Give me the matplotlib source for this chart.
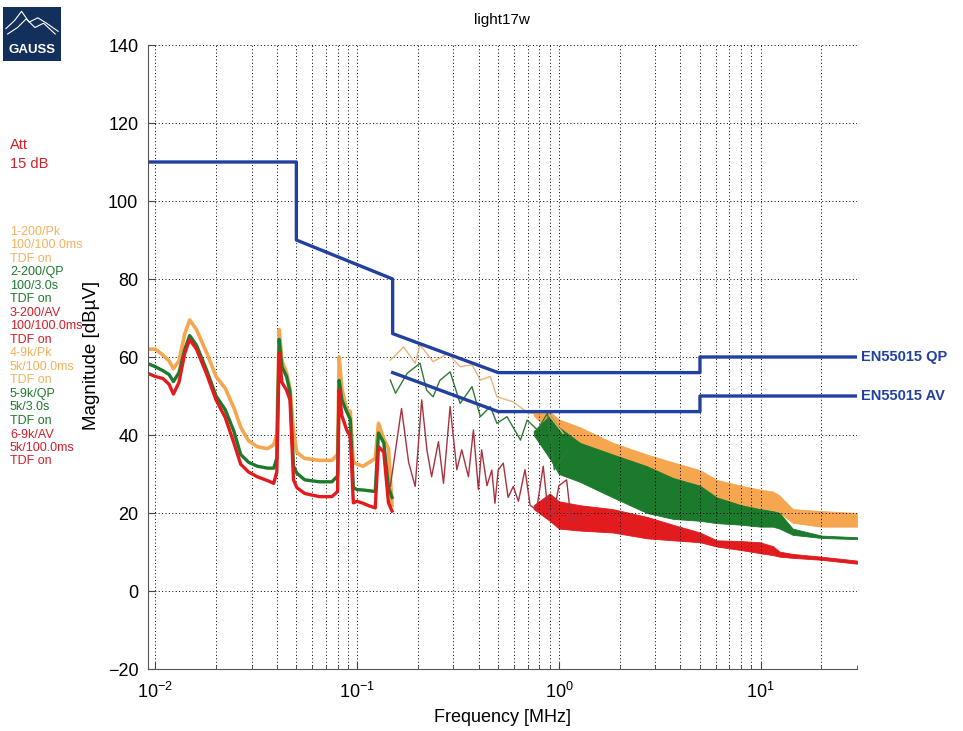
import numpy as np
import matplotlib
matplotlib.use('Agg')
import matplotlib.pyplot as plt
from matplotlib.ticker import FixedLocator, FuncFormatter, NullFormatter

plt.rcParams['font.family'] = ['Liberation Sans', 'DejaVu Sans']
plt.rcParams['mathtext.fontset'] = 'custom'
plt.rcParams['mathtext.rm'] = 'Liberation Sans'
plt.rcParams['mathtext.it'] = 'Liberation Sans:italic'

# EN55015 limit lines [MHz, dBuV]
qp_f = [0.009, 0.05, 0.05, 0.15, 0.15, 0.5, 5, 5, 30]
qp_db = [110, 110, 90, 80, 66, 56, 56, 60, 60]
av_f = [0.15, 0.5, 5, 5, 30]
av_db = [56, 46, 46, 50, 50]

# low frequency part (9 kHz band, 9-150 kHz): peak / QP / AV
lf_f = [0.0090, 0.0100, 0.0109, 0.0117, 0.0123, 0.0131, 0.0140, 0.0148, 0.0160, 0.0180,
        0.0200, 0.0222, 0.0245, 0.0265, 0.0290, 0.0320, 0.0360, 0.0386, 0.0400, 0.0411,
        0.0424, 0.0447, 0.0465, 0.0484, 0.0503, 0.0550, 0.0650, 0.0750, 0.0800, 0.0815,
        0.0840, 0.0888, 0.0925, 0.0958, 0.1000, 0.1070, 0.1150, 0.1230, 0.1276, 0.1356,
        0.1430, 0.1490]
lf_pk = [62, 62, 60.5, 59, 57, 59, 66, 69.5, 67, 61,
         55, 52, 47, 42, 38.5, 37, 36.5, 37.5, 40, 67,
         59, 56, 52, 41, 35.5, 34, 33.5, 33.5, 35, 60,
         52, 46.5, 46, 33, 32.5, 32, 33, 34, 43, 39,
         36.5, 22]
lf_qp = [58.5, 57.5, 56.5, 55.5, 53.7, 56, 62, 65.5, 63, 56.5,
         50, 46.5, 41, 35, 33, 32, 31.5, 31.5, 34, 64.5,
         57.5, 55, 51, 32, 30.2, 28.5, 28, 28, 29.5, 54,
         49, 46, 44, 26.5, 26, 25.9, 25.7, 25.5, 40.5, 38,
         26.5, 24]
lf_av = [56, 55, 54.5, 53, 50.5, 53.5, 61, 64.5, 62, 55.5,
         49, 44.5, 38, 32.5, 30.5, 29.3, 28.3, 27.6, 30.5, 61,
         53.5, 51.5, 49, 28.5, 26.5, 25, 24.2, 24.2, 25.5, 51.5,
         45, 41.3, 39.6, 22.6, 23, 22.5, 21.8, 21.3, 37, 35.6,
         22.6, 20.5]

# mid part (200 Hz band, 150 kHz - 1 MHz)
mf_pk_f = [0.146, 0.158, 0.170, 0.194, 0.205, 0.238, 0.282, 0.324, 0.371, 0.408,
           0.457, 0.493, 0.594, 0.705, 0.878, 1.05]
mf_pk = [59.2, 60.9, 62.6, 58.4, 63.1, 58.8, 60.9, 57.5, 58, 54.1,
         55, 49.8, 48.5, 45.6, 45.6, 40.4]
mf_qp_f = [0.146, 0.155, 0.177, 0.205, 0.221, 0.238, 0.257, 0.289, 0.324, 0.371,
           0.408, 0.457, 0.493, 0.553, 0.645, 0.696, 0.783, 0.878, 0.949, 1.106]
mf_qp = [54.1, 50.7, 55.8, 58.4, 51.5, 49.8, 54, 56.2, 48.1, 52.4,
         44.7, 47.3, 43, 44.7, 38.7, 43.8, 41.3, 45.6, 31.1, 36.2]
mf_av_f = [0.146, 0.166, 0.180, 0.194, 0.209, 0.222, 0.234, 0.253, 0.268, 0.289,
           0.312, 0.330, 0.356, 0.377, 0.399, 0.414, 0.440, 0.465, 0.482, 0.500,
           0.530, 0.560, 0.594, 0.630, 0.679, 0.720, 0.775, 0.836, 0.880, 0.937,
           1.000, 1.092, 1.150, 1.270]
mf_av = [26.8, 46.8, 33, 26.8, 49, 36, 29.3, 38.3, 27.6, 47.3,
         31.1, 36.2, 29.3, 41.3, 26.0, 36.2, 27, 31, 22.5, 31,
         32.8, 24, 26.8, 23, 31.1, 22, 20.8, 32.0, 21, 19.1,
         27, 28.5, 18, 19.1]

# high frequency part, noise band low/high edges
hf_f = [0.75, 0.9, 1.0, 1.27, 1.85, 2.73, 3.67, 5.0, 6.05, 8.0, 9.9, 11.5, 12.4, 14.4, 20.0, 30.0]
hf_pk_lo = [45, 41, 38, 35, 31, 24, 22, 22, 21.6, 21.5, 21, 20.8, 20, 17.5, 16.5, 16.5]
hf_pk_hi = [46, 46, 44, 42, 38, 35, 33, 31, 28.5, 27, 26, 25.5, 24.5, 21, 20.5, 20]
hf_qp_lo = [40, 34, 30, 28, 24, 20, 18.5, 18, 17.4, 17, 16.5, 16.5, 16, 14.4, 13.6, 13.3]
hf_qp_hi = [41, 45, 42, 38, 35, 32, 29, 27, 24, 22, 21, 20.5, 20, 16, 14.2, 13.8]
hf_av_lo = [21, 18, 16, 15.5, 15, 13.5, 13, 12.5, 11.4, 10.5, 9.7, 9.2, 8.8, 8.5, 8, 7]
hf_av_hi = [22, 25, 23, 22, 21, 19, 17, 15, 13, 12.8, 12.5, 11.5, 10.1, 9.5, 8.8, 7.8]

settings = ['1-200/Pk', '100/100.0ms', 'TDF on',
            '2-200/QP', '100/3.0s', 'TDF on',
            '3-200/AV', '100/100.0ms', 'TDF on',
            '4-9k/Pk', '5k/100.0ms', 'TDF on',
            '5-9k/QP', '5k/3.0s', 'TDF on',
            '6-9k/AV', '5k/100.0ms', 'TDF on']

c_pk = '#F5A64E'
c_qp = '#1C7A2C'
c_av = '#E21B1F'
c_pk_thin = '#E9B47C'
c_qp_thin = '#2F7A35'
c_av_thin = '#A8323F'
c_lim = '#2140A0'

W, H = 963, 731
fig = plt.figure(figsize=(W / 100, H / 100), dpi=100)
ax = fig.add_axes([148 / W, 62 / H, 709 / W, 624 / H])

# traces
ax.plot(lf_f, lf_pk, color=c_pk, lw=2.6)
ax.plot(lf_f, lf_qp, color=c_qp, lw=2.4)
ax.plot(lf_f, lf_av, color=c_av, lw=2.4)

ax.fill_between(hf_f, hf_pk_lo, hf_pk_hi, color=c_pk, lw=0.6)
ax.plot(mf_pk_f, mf_pk, color=c_pk_thin, lw=1.0)
ax.fill_between(hf_f, hf_qp_lo, hf_qp_hi, color=c_qp, lw=0.6)
ax.plot(mf_qp_f, mf_qp, color=c_qp_thin, lw=1.0)
ax.fill_between(hf_f, hf_av_lo, hf_av_hi, color=c_av, lw=0.6)
ax.plot(mf_av_f, mf_av, color=c_av_thin, lw=1.0)

# limits
ax.plot(qp_f, qp_db, color=c_lim, lw=2.4)
ax.plot(av_f, av_db, color=c_lim, lw=2.4)
ax.text(1.006, (qp_db[-1] + 20) / 160, 'EN55015 QP', transform=ax.transAxes,
        color=c_lim, fontsize=10.5, fontweight='bold', va='center', ha='left')
ax.text(1.006, (av_db[-1] + 20) / 160, 'EN55015 AV', transform=ax.transAxes,
        color=c_lim, fontsize=10.5, fontweight='bold', va='center', ha='left')

ax.set_xscale('log')
ax.set_xlim(0.0092, 30)
ax.set_ylim(-20, 140)
ax.set_yticks(range(-20, 141, 20))
ax.xaxis.set_major_locator(FixedLocator([0.01, 0.1, 1, 10]))
minors = [m * d for d in [0.001, 0.01, 0.1, 1, 10] for m in range(2, 10)]
ax.xaxis.set_minor_locator(FixedLocator(minors))
ax.xaxis.set_major_formatter(FuncFormatter(lambda v, p: r'$10^{%d}$' % round(np.log10(v))))
ax.xaxis.set_minor_formatter(NullFormatter())
ax.grid(which='major', color='black', linestyle=(0, (1, 2.5)), lw=0.7)
ax.grid(which='minor', axis='x', color='black', linestyle=(0, (1, 2.5)), lw=0.7)
ax.tick_params(which='both', direction='in', labelsize=13, color='#444444')
ax.tick_params(which='major', length=5)
ax.tick_params(which='minor', length=3)
ax.tick_params(axis='y', pad=7)
ax.tick_params(axis='x', pad=9)
for s in ['top', 'right']:
    ax.spines[s].set_visible(False)
for s in ['left', 'bottom']:
    ax.spines[s].set_color('#555555')

fig.text(502 / W, 1 - 20 / H, 'light17w', ha='center', va='center', fontsize=11)
fig.text(502 / W, 1 - 718 / H, 'Frequency [MHz]', ha='center', va='center', fontsize=13)
fig.text(91 / W, 1 - 355 / H, 'Magnitude [dBµV]', ha='center', va='center',
         fontsize=13.5, rotation=90)

# side info
fig.text(10 / W, 1 - 145 / H, 'Att', color='#D0202A', fontsize=10.5, va='center')
fig.text(10 / W, 1 - 164 / H, '15 dB', color='#D0202A', fontsize=10.5, va='center')
set_colors = ['#F2B25E', '#1E7A2E', '#D0202A']
for i, t in enumerate(settings):
    fig.text(10 / W, 1 - (232 + i * 13.5) / H, t, color=set_colors[(i // 3) % 3],
             fontsize=9, va='center')

# logo
lg = fig.add_axes([3 / W, 1 - 61 / H, 58 / W, 54 / H])
lg.set_facecolor('#13305C')
lg.set_xlim(0, 1)
lg.set_ylim(0, 1)
lg.set_xticks([])
lg.set_yticks([])
for s in lg.spines.values():
    s.set_visible(False)
lg.plot([0.05, 0.2, 0.32, 0.45, 0.6, 0.75, 0.95], [0.6, 0.75, 0.92, 0.72, 0.8, 0.7, 0.55],
        color='white', lw=0.8)
lg.plot([0.08, 0.25, 0.4, 0.55, 0.7, 0.9], [0.5, 0.62, 0.78, 0.62, 0.7, 0.5],
        color='white', lw=0.8)
lg.text(0.5, 0.2, 'GAUSS', color='white', fontsize=9.5, fontweight='bold',
        ha='center', va='center')

fig.savefig('out.png', dpi=100)
